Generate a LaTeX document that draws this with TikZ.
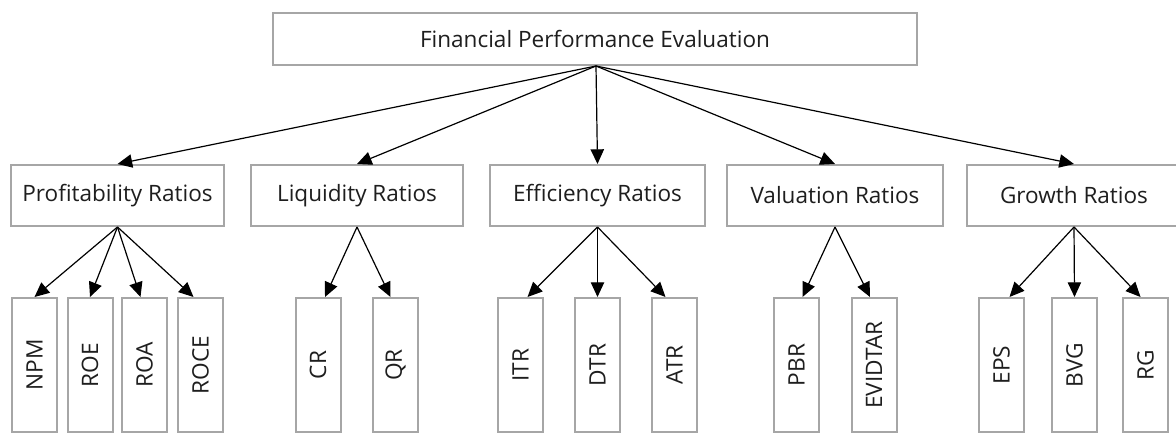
\documentclass[tikz,border=0pt]{standalone}
\usepackage{fontspec}
\setmainfont{Open Sans}
\usetikzlibrary{arrows.meta}
\definecolor{edgegray}{RGB}{166,166,166}
\definecolor{inkgray}{RGB}{30,30,30}
\newcommand{\pxu}{0.75pt}
\begin{document}
\begin{tikzpicture}[x=0.75pt,y=-0.75pt,
  box/.style={draw=edgegray, line width=1.5pt, fill=white, inner sep=0pt, text=inkgray},
  wordfont/.style={font=\fontsize{16.9pt}{20pt}\selectfont, text=inkgray},
  catbox/.style={box, wordfont, minimum height=61*\pxu},
  leaf/.style={box, font=\fontsize{17pt}{20pt}\selectfont,
    minimum width=45*\pxu, minimum height=134*\pxu},
  link/.style={-{Triangle[length=11pt,width=10pt]}, line width=0.9pt}
]
\useasboundingbox (0,0) rectangle (1176,434);
\clip (0,0) rectangle (1176,434);

% root
\node[box, wordfont, minimum width=644*\pxu, minimum height=52*\pxu] (root) at (595,39)
  {Financial Performance Evaluation};

% categories
\node[catbox, minimum width=213*\pxu] (prof) at (117.5,195.5) {Profitability Ratios};
\node[catbox, minimum width=212*\pxu] (liq) at (357,195.5) {Liquidity Ratios};
\node[catbox, minimum width=215*\pxu] (eff) at (597.5,195.5) {Efficiency Ratios};
\node[catbox, minimum width=216*\pxu] (val) at (835,195.5) {Valuation Ratios};
\node[catbox, minimum width=214*\pxu] (gro) at (1074,195.5) {Growth Ratios};

% individual ratios
\node[leaf] (npm) at (34.5,365) {\rotatebox{90}{NPM}};
\node[leaf] (roe) at (90,365) {\rotatebox{90}{ROE}};
\node[leaf] (roa) at (144.5,365) {\rotatebox{90}{ROA}};
\node[leaf] (roce) at (200.5,365) {\rotatebox{90}{ROCE}};
\node[leaf] (cr) at (318,365) {\rotatebox{90}{CR}};
\node[leaf] (qr) at (395.5,365) {\rotatebox{90}{QR}};
\node[leaf] (itr) at (520.5,365) {\rotatebox{90}{ITR}};
\node[leaf] (dtr) at (597.5,365) {\rotatebox{90}{DTR}};
\node[leaf] (atr) at (674.5,365) {\rotatebox{90}{ATR}};
\node[leaf] (pbr) at (796.5,365) {\rotatebox{90}{PBR}};
\node[leaf] (evi) at (874,365) {\rotatebox{90}{EVIDTAR}};
\node[leaf] (eps) at (1001.5,365) {\rotatebox{90}{EPS}};
\node[leaf] (bvg) at (1074.5,365) {\rotatebox{90}{BVG}};
\node[leaf] (rg) at (1145.5,365) {\rotatebox{90}{RG}};

% root to categories
\foreach \c in {prof,liq,eff,val,gro}
  \draw[link] ([xshift=1*\pxu]root.south) -- (\c.north);

% categories to ratios
\draw[link] (prof.south) -- (npm.north);
\draw[link] (prof.south) -- (roe.north);
\draw[link] (prof.south) -- ([xshift=-4*\pxu]roa.north);
\draw[link] (prof.south) -- ([xshift=-7*\pxu]roce.north);
\draw[link] (liq.south) -- ([xshift=7*\pxu]cr.north);
\draw[link] (liq.south) -- ([xshift=-5*\pxu]qr.north);
\draw[link] (eff.south) -- ([xshift=7*\pxu]itr.north);
\draw[link] (eff.south) -- (dtr.north);
\draw[link] (eff.south) -- ([xshift=-9*\pxu]atr.north);
\draw[link] (val.south) -- ([xshift=6*\pxu]pbr.north);
\draw[link] (val.south) -- ([xshift=-4*\pxu]evi.north);
\draw[link] (gro.south) -- ([xshift=8*\pxu]eps.north);
\draw[link] (gro.south) -- (bvg.north);
\draw[link] (gro.south) -- ([xshift=-5*\pxu]rg.north);
\end{tikzpicture}
\end{document}
